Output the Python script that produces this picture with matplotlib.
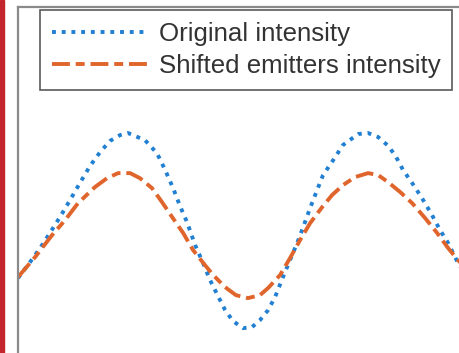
import matplotlib
matplotlib.use("Agg")
import matplotlib.pyplot as plt
from matplotlib.patches import Rectangle

# positions along the profile (arb. units) and intensities
x_orig = [0.000, 0.050, 0.092, 0.133, 0.175, 0.217, 0.258, 0.300, 0.342, 0.383,
          0.425, 0.458, 0.529, 0.579, 0.613, 0.646, 0.675, 0.704, 0.738, 0.771,
          0.800, 0.833, 0.863, 0.896, 0.938, 0.975, 1.008, 1.042, 1.071, 1.104,
          1.133, 1.163, 1.188, 1.217, 1.246, 1.271, 1.308, 1.354, 1.417, 1.458,
          1.500, 1.538, 1.571, 1.604, 1.642, 1.683, 1.725, 1.758, 1.792, 1.833,
          1.860]
i_orig = [0.295, 0.371, 0.438, 0.510, 0.586, 0.667, 0.748, 0.829, 0.895, 0.948,
          0.976, 0.986, 0.952, 0.890, 0.810, 0.724, 0.638, 0.562, 0.452, 0.367,
          0.286, 0.210, 0.143, 0.090, 0.057, 0.062, 0.095, 0.143, 0.205, 0.300,
          0.381, 0.462, 0.538, 0.629, 0.714, 0.786, 0.848, 0.929, 0.981, 0.986,
          0.967, 0.929, 0.881, 0.810, 0.748, 0.676, 0.595, 0.524, 0.462, 0.367,
          0.310]

x_shift = [0.000, 0.071, 0.142, 0.196, 0.250, 0.321, 0.371, 0.417, 0.467, 0.508,
           0.558, 0.600, 0.642, 0.688, 0.729, 0.779, 0.813, 0.863, 0.908, 0.958,
           1.008, 1.042, 1.092, 1.133, 1.175, 1.217, 1.267, 1.308, 1.354, 1.404,
           1.458, 1.500, 1.542, 1.592, 1.642, 1.696, 1.746, 1.792, 1.833, 1.860]
i_shift = [0.300, 0.395, 0.500, 0.571, 0.652, 0.729, 0.771, 0.795, 0.795, 0.771,
           0.724, 0.657, 0.586, 0.510, 0.429, 0.357, 0.310, 0.252, 0.214, 0.200,
           0.214, 0.248, 0.310, 0.390, 0.476, 0.557, 0.633, 0.690, 0.738, 0.776,
           0.795, 0.786, 0.752, 0.705, 0.652, 0.581, 0.510, 0.438, 0.381, 0.345]

labels = ["Original intensity", "Shifted emitters intensity"]

blue = "#2180d2"
orange = "#e0652c"

plt.rcParams["font.family"] = ["Liberation Sans", "DejaVu Sans"]

fig = plt.figure(figsize=(4.6, 3.53), dpi=100)
fig.patch.set_facecolor("white")

# red strip on the far left
fig.patches.append(Rectangle((0, 0), 4 / 460, 1, transform=fig.transFigure,
                             color="#c4262e", zorder=0))

ax = fig.add_axes([18 / 460, -0.0765, 0.9826, 1.0567])
ax.plot(x_orig, i_orig, color=blue, lw=2.8, dashes=[1, 1.5],
        dash_capstyle="butt", label=labels[0])
ax.plot(x_shift, i_shift, color=orange, lw=2.8, dashes=[4.6, 1.5, 2.3, 1.5],
        dash_capstyle="butt", label=labels[1])

ax.set_xlim(0, 1.883)
ax.set_ylim(-0.190, 1.586)
ax.set_xticks([])
ax.set_yticks([])
for side in ["left", "top"]:
    ax.spines[side].set_color("#8a8a8a")
    ax.spines[side].set_linewidth(1.6)
for side in ["right", "bottom"]:
    ax.spines[side].set_visible(False)

leg = ax.legend(loc="upper left", bbox_to_anchor=(40 / 460, 1 - 10 / 353),
                bbox_transform=fig.transFigure, borderaxespad=0,
                fontsize=18.6, handlelength=3.75, handletextpad=0.39,
                borderpad=0.46, labelspacing=0.31, fancybox=False,
                framealpha=1, edgecolor="#5a5a5a")
leg.get_frame().set_linewidth(1.2)
for t in leg.get_texts():
    t.set_color("#333333")

fig.savefig("out.png", dpi=100)
